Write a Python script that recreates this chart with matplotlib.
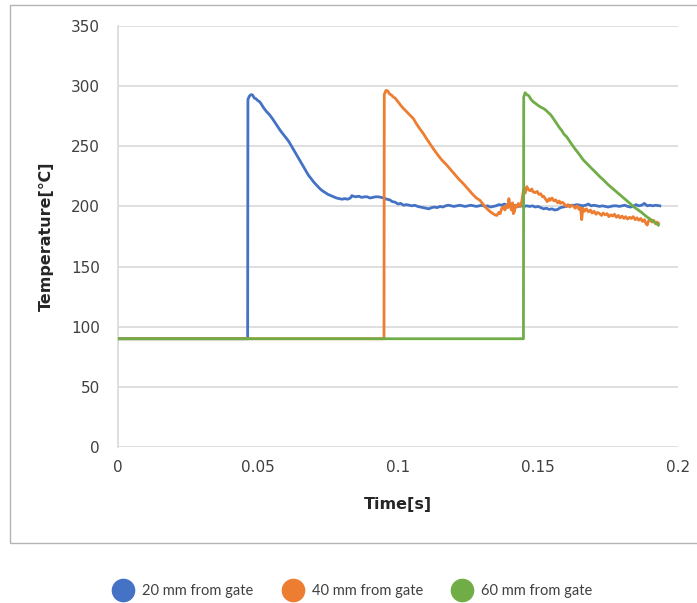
import matplotlib
matplotlib.use("Agg")
import matplotlib.pyplot as plt
from matplotlib.lines import Line2D
from matplotlib.patches import Rectangle

# ---------------- data ----------------
series_names = ["20 mm from gate", "40 mm from gate", "60 mm from gate"]
x_ticks = [0, 0.05, 0.1, 0.15, 0.2]
x_tick_labels = ["0", "0.05", "0.1", "0.15", "0.2"]
y_ticks = [0, 50, 100, 150, 200, 250, 300, 350]

t_20 = [0, 0.0463, 0.0464, 0.0470, 0.0476, 0.0481, 0.0487, 0.0493, 0.0499, 0.0506,
        0.0512, 0.0520, 0.0530, 0.0540, 0.0550, 0.0560, 0.0570, 0.0580, 0.0590, 0.0600,
        0.0610, 0.0620, 0.0630, 0.0640, 0.0650, 0.0660, 0.0670, 0.0680, 0.0690, 0.0700,
        0.0710, 0.0720, 0.0730, 0.0740, 0.0750, 0.0760, 0.0770, 0.0780, 0.0790, 0.0800,
        0.0810, 0.0820, 0.0830, 0.0835, 0.0840, 0.0850, 0.0860, 0.0870, 0.0880, 0.0890,
        0.0900, 0.0910, 0.0920, 0.0930, 0.0940, 0.0950, 0.0960, 0.0970, 0.0980, 0.0990,
        0.1000, 0.1010, 0.1020, 0.1030, 0.1040, 0.1050, 0.1060, 0.1070, 0.1080, 0.1090,
        0.1100, 0.1110, 0.1120, 0.1130, 0.1140, 0.1150, 0.1160, 0.1170, 0.1180, 0.1190,
        0.1200, 0.1210, 0.1220, 0.1230, 0.1240, 0.1250, 0.1260, 0.1270, 0.1280, 0.1290,
        0.1300, 0.1310, 0.1320, 0.1330, 0.1340, 0.1350, 0.1360, 0.1370, 0.1380, 0.1390,
        0.1400, 0.1410, 0.1420, 0.1430, 0.1440, 0.1450, 0.1460, 0.1470, 0.1480, 0.1490,
        0.1500, 0.1510, 0.1520, 0.1530, 0.1540, 0.1550, 0.1560, 0.1570, 0.1580, 0.1590,
        0.1600, 0.1610, 0.1620, 0.1630, 0.1640, 0.1650, 0.1660, 0.1670, 0.1680, 0.1690,
        0.1700, 0.1710, 0.1720, 0.1730, 0.1740, 0.1750, 0.1760, 0.1770, 0.1780, 0.1790,
        0.1800, 0.1810, 0.1820, 0.1830, 0.1840, 0.1850, 0.1860, 0.1870, 0.1880, 0.1890,
        0.1900, 0.1910, 0.1920, 0.1935]
temp_20 = [90, 90, 289, 292, 293, 292.5, 290, 289.5, 288, 287,
           285, 282, 279, 276.5, 273.5, 270, 266.5, 263, 260, 257,
           254, 250, 246, 242, 238, 234, 230, 226, 223, 220,
           217.5, 215, 213, 211.5, 210, 209, 208, 207, 206.5, 206,
           206.5, 206, 207, 209, 208.5, 208, 208.5, 207.5, 208, 208,
           207, 207.5, 208, 208, 207.5, 207, 206, 205.5, 204, 203.5,
           202, 202.5, 201, 201.5, 201, 200.5, 201, 200, 199.5, 199,
           198.5, 198, 199, 199.5, 199, 200, 199.5, 200.5, 201, 200.5,
           200, 200.5, 201, 200.5, 200, 200.5, 201, 200.5, 200, 200.5,
           201, 200, 200.5, 199.5, 200, 200.5, 201.5, 201, 202, 201,
           201.5, 200.5, 201, 200, 200.5, 200, 200.5, 200, 200.5, 199.5,
           200, 199, 198, 198.5, 197.5, 198, 197, 197.5, 199, 199.5,
           200, 200.5, 201, 201, 201.5, 201, 200.5, 201, 202, 200.5,
           201, 200.5, 200, 200.5, 200, 199.5, 200, 200.5, 200.5, 200,
           200.5, 201, 200, 199.5, 200, 201.5, 200.5, 201, 202.5, 200.5,
           201, 200.5, 201, 200.5]

t_40 = [0, 0.0950, 0.0951, 0.0957, 0.0963, 0.0970, 0.0977, 0.0983, 0.0990, 0.1000,
        0.1010, 0.1019, 0.1030, 0.1040, 0.1055, 0.1065, 0.1075, 0.1090, 0.1100, 0.1110,
        0.1126, 0.1140, 0.1155, 0.1174, 0.1190, 0.1205, 0.1220, 0.1233, 0.1250, 0.1265,
        0.1280, 0.1293, 0.1305, 0.1318, 0.1330, 0.1340, 0.1346, 0.1353, 0.1360, 0.1365,
        0.1370, 0.1376, 0.1382, 0.1387, 0.1392, 0.1396, 0.1400, 0.1405, 0.1409, 0.1412,
        0.1416, 0.1420, 0.1425, 0.1430, 0.1436, 0.1442, 0.1448, 0.1454, 0.1460, 0.1466,
        0.1472, 0.1478, 0.1483, 0.1490, 0.1497, 0.1503, 0.1510, 0.1516, 0.1520, 0.1527,
        0.1533, 0.1540, 0.1543, 0.1550, 0.1557, 0.1563, 0.1570, 0.1576, 0.1580, 0.1587,
        0.1594, 0.1600, 0.1607, 0.1614, 0.1620, 0.1627, 0.1633, 0.1640, 0.1647, 0.1652,
        0.1656, 0.1660, 0.1666, 0.1673, 0.1680, 0.1687, 0.1693, 0.1700, 0.1707, 0.1713,
        0.1720, 0.1727, 0.1733, 0.1740, 0.1747, 0.1753, 0.1760, 0.1767, 0.1773, 0.1780,
        0.1787, 0.1793, 0.1800, 0.1807, 0.1813, 0.1820, 0.1827, 0.1833, 0.1840, 0.1847,
        0.1853, 0.1860, 0.1867, 0.1873, 0.1880, 0.1885, 0.1890, 0.1895, 0.1900, 0.1907,
        0.1913, 0.1920, 0.1925, 0.1930]
temp_40 = [90, 90, 293, 296.5, 296, 293.5, 292.5, 291, 290, 287,
           284, 281.5, 279, 276.5, 273, 269, 265.5, 260.7, 257, 253.5,
           248, 243.5, 239, 234.4, 230, 226, 222, 219, 214.5, 210.5,
           207, 205, 201.5, 198, 195.5, 194, 193, 192.5, 195, 194,
           198, 199.5, 197, 201, 199, 206.5, 201, 197, 203, 194,
           196, 201, 199.5, 202.5, 200, 204, 213.5, 211, 216.5, 214,
           213, 214.5, 212, 211.5, 212.5, 210, 210.5, 208, 208.5, 206,
           204, 206.5, 205, 207, 204.5, 205.5, 203, 204.5, 202.5, 203.5,
           202, 200, 201.5, 199.5, 201, 200, 198.5, 200.5, 197.5, 199,
           189, 198.5, 196, 198, 195.5, 197, 194.5, 196, 193.5, 195,
           194, 192.5, 194.5, 193, 194, 191.5, 193, 192, 193.5, 191,
           192.5, 190.5, 192, 190, 191.5, 189.5, 191, 190, 191.5, 189,
           190.5, 188.5, 190, 187.5, 189, 186, 184.5, 188, 189.5, 187,
           188.5, 185.5, 187, 186]

t_60 = [0, 0.1448, 0.1449, 0.1454, 0.1460, 0.1467, 0.1475, 0.1483, 0.1492, 0.1500,
        0.1510, 0.1519, 0.1528, 0.1537, 0.1546, 0.1555, 0.1565, 0.1575, 0.1585, 0.1593,
        0.1602, 0.1615, 0.1630, 0.1645, 0.1662, 0.1677, 0.1692, 0.1707, 0.1721, 0.1736,
        0.1751, 0.1766, 0.1781, 0.1796, 0.1811, 0.1826, 0.1840, 0.1855, 0.1870, 0.1885,
        0.1900, 0.1915, 0.1930]
temp_60 = [90, 90, 291, 294.5, 293, 292, 289, 287, 285.5, 284,
           282.5, 281.5, 280, 278, 276, 273, 269.5, 266, 263, 260,
           258, 253.5, 248.5, 244, 238.6, 235, 231.5, 228, 224.7, 221.5,
           218, 215, 212, 209, 206, 203, 200, 197.5, 195, 192,
           189.5, 187, 184.5]

colors = ["#4472C4", "#ED7D31", "#70AD47"]

# ---------------- figure ----------------
W, H = 697, 603
fig = plt.figure(figsize=(W / 100, H / 100), dpi=100)
plt.rcParams["font.family"] = ["DejaVu Sans"]

# outer chart border (right edge lies outside the image)
fig.patches.append(Rectangle((10 / W, 1 - 543 / H), 700 / W, 538 / H,
                             transform=fig.transFigure, fill=False,
                             edgecolor="#b4b4b4", linewidth=1.0))

ax = fig.add_axes([118 / W, 1 - 447 / H, 560 / W, 421 / H])

for t, v, c, name in zip([t_20, t_40, t_60], [temp_20, temp_40, temp_60], colors, series_names):
    assert len(t) == len(v)
    ax.plot(t, v, color=c, linewidth=2.0, label=name, solid_joinstyle="round", zorder=3)

ax.set_xlim(0, 0.2)
ax.set_ylim(0, 350)
ax.set_xticks(x_ticks)
ax.set_xticklabels(x_tick_labels)
ax.set_yticks(y_ticks)
ax.yaxis.grid(True, color="#d9d9d9", linewidth=1.2)
ax.xaxis.grid(False)
ax.set_axisbelow(True)
for s in ["top", "right", "bottom"]:
    ax.spines[s].set_visible(False)
ax.spines["left"].set_color("#d9d9d9")
ax.spines["left"].set_linewidth(1.2)
ax.tick_params(axis="both", length=0, labelsize=11, labelcolor="#404040")
ax.tick_params(axis="y", pad=13)
ax.tick_params(axis="x", pad=9)

ax.set_xlabel("Time[s]", fontsize=11.5, fontweight="bold", color="#262626")
ax.set_ylabel("Temperature[℃]", fontsize=11.5, fontweight="bold", color="#262626")
ax.xaxis.set_label_coords(0.5, -0.119)
ax.yaxis.set_label_coords(-0.115, 0.5)

handles = [Line2D([], [], linestyle="none", marker="o", markersize=16,
                  markerfacecolor=c, markeredgecolor=c) for c in colors]
fig.legend(handles, series_names, loc="center", ncol=3,
           bbox_to_anchor=(354 / W, 1 - 591 / H), frameon=False,
           prop={"family": "Lato", "size": 10.5}, handlelength=1.0,
           handletextpad=0.8, columnspacing=2.2, labelcolor="#404040")

fig.savefig("out.png", dpi=100)
